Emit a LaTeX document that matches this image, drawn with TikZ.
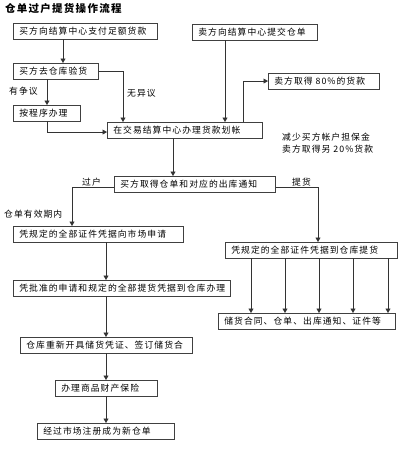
\documentclass[tikz,border=0pt]{standalone}
\usepackage{fontspec}
\setmainfont{Noto Sans CJK SC}[LetterSpace=12]
\usetikzlibrary{arrows.meta,positioning}

\begin{document}
\begin{tikzpicture}
        [ x=1pt, y=-1pt,
          every node/.style = {font=\fontsize{8.8}{12}\selectfont},
          box/.style = {draw=black!75,line width=0.6pt,anchor=north west,
                        inner xsep=6pt,inner ysep=0pt,minimum height=15.5pt,
                        align=left},
          note/.style = {anchor=west,inner sep=0pt},
          flow/.style = {draw=black!80,line width=0.6pt,
                         -{Triangle[width=5pt,length=4.5pt]}}]
        \useasboundingbox (0,0) rectangle (400,450);
        \node[note,font=\fontsize{10.5}{12}\selectfont\bfseries] (title) at (5,9) {仓单过户提货操作流程};
        % boxes
        \node[box,text width=132pt] (pay) at (13,23) {买方向结算中心支付足额货款};
        \node[box,text width=113pt] (submit) at (192,24) {卖方向结算中心提交仓单};
        \node[box,text width=73pt] (inspect) at (13,63) {买方去仓库验货};
        \node[box,text width=99pt] (get80) at (268,73) {卖方取得 80\%的货款};
        \node[box,text width=55pt] (proc) at (13,105) {按程序办理};
        \node[box,text width=143pt] (transfer) at (107,122) {在交易结算中心办理货款划帐};
        \node[box,text width=149pt] (notice) at (114,176) {买方取得仓单和对应的出库通知};
        \node[box,text width=158pt] (apply) at (13,226) {凭规定的全部证件凭据向市场申请};
        \node[box,text width=205pt] (approve) at (13,280) {凭批准的申请和规定的全部提货凭据到仓库办理};
        \node[box,text width=160pt] (pickup) at (225,242) {凭规定的全部证件凭据到仓库提货};
        \node[box,text width=165pt] (docs) at (218,313) {储货合同、仓单、出库通知、证件等};
        \node[box,text width=160pt] (reissue) at (20,337) {仓库重新开具储货凭证、签订储货合};
        \node[box,text width=90pt] (insure) at (55,380) {办理商品财产保险};
        \node[box,text width=125pt] (newrcpt) at (37,423) {经过市场注册成为新仓单};
        % labels
        \node[note] (dispute) at (9,91) {有争议};
        \node[note] (agree) at (127,93) {无异议};
        \node[note] (xfer) at (82,182) {过户};
        \node[note] (valid) at (4,214) {仓单有效期内};
        \node[note] (take) at (292,182) {提货};
        \node[note,align=left] (reduce) at (282,143) {减少买方帐户担保金\\卖方取得另 20\%货款};
        % connectors
        \draw[flow] ([xshift=50pt]pay.south west) -- ([xshift=50pt]inspect.north west);
        \draw[flow] ([xshift=34pt]inspect.south west) -- ([xshift=34pt]proc.north west);
        \draw[flow] (inspect.east) -| ([xshift=16pt]transfer.north west);
        \draw[flow] ([xshift=34pt]proc.south west) |- ([yshift=-2pt]transfer.west);
        \draw[flow] ([xshift=33pt]submit.south west) -- ([xshift=33pt]submit.south west |- transfer.north);
        \draw[flow] ([xshift=-19pt]transfer.north east) |- (get80.west);
        \draw[flow] ([xshift=66pt]transfer.south west) -- ([xshift=66pt]transfer.south west |- notice.north);
        \draw[flow] ([yshift=-3pt]notice.west) -| ([xshift=59pt]apply.north west);
        \draw[flow] ([yshift=-3pt]notice.east) -| ([xshift=93pt]pickup.north west);
        \draw[flow] ([xshift=93pt]apply.south west) -- ([xshift=93pt]apply.south west |- approve.north);
        \draw[flow] ([xshift=93pt]approve.south west) -- ([xshift=93pt]approve.south west |- reissue.north);
        \draw[flow] ([xshift=86pt]reissue.south west) -- ([xshift=86pt]reissue.south west |- insure.north);
        \draw[flow] ([xshift=51pt]insure.south west) -- ([xshift=51pt]insure.south west |- newrcpt.north);
        \foreach \dx in {26,60,94,128,163}
            \draw[flow] ([xshift=\dx pt]pickup.south west) -- ([xshift=\dx pt]pickup.south west |- docs.north);
\end{tikzpicture}
\end{document}
